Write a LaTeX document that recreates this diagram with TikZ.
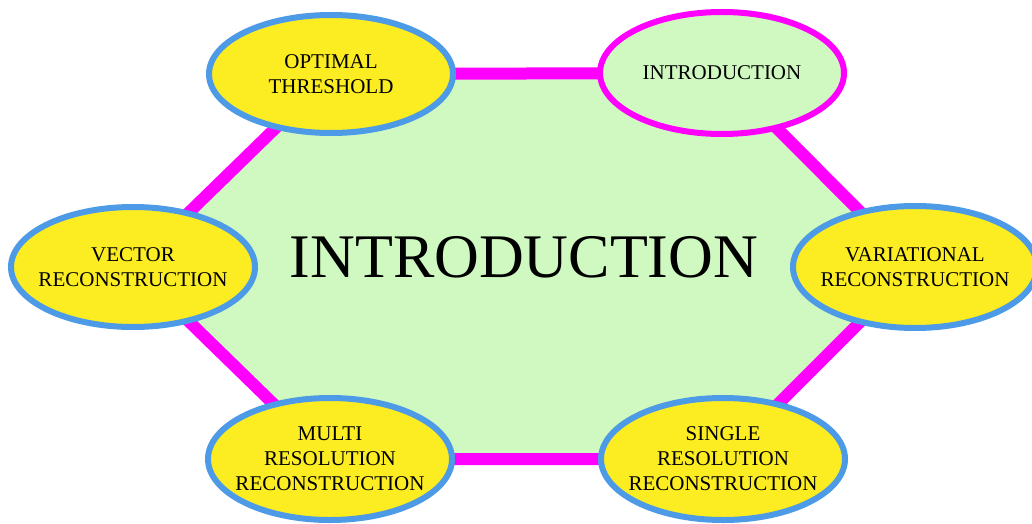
\documentclass[tikz,border=0pt]{standalone}
\usepackage{fontspec}
\setmainfont{Liberation Serif}
\usetikzlibrary{shapes.geometric,backgrounds}
\definecolor{hexgreen}{RGB}{207,249,192}
\definecolor{bubyellow}{RGB}{252,236,34}
\definecolor{bubblue}{RGB}{77,155,230}
\definecolor{edgemag}{RGB}{255,0,255}
\tikzset{
    bubble/.style={ellipse,draw=bubblue,fill=bubyellow,line width=6pt,minimum width=244pt,minimum height=118pt,inner sep=0pt},
    bubtext/.style={font=\fontsize{21}{25}\selectfont,align=center,text=black},
}
\begin{document}
\begin{tikzpicture}[x=1pt,y=-1pt]
    \useasboundingbox (0,0) rectangle (1032,524);
    \node[bubble] (opt) at (331,74) {};
    \node[bubble,draw=edgemag,fill=hexgreen,minimum height=122pt] (intro) at (722,73) {};
    \node[bubble,minimum height=122pt] (var) at (915,267) {};
    \node[bubble,minimum height=122pt] (single) at (723,459) {};
    \node[bubble,minimum height=122pt] (multi) at (330,459) {};
    \node[bubble,minimum height=120pt] (vec) at (133,267) {};
    \node[bubtext] (optText) at (opt) {OPTIMAL\\THRESHOLD};
    \node[bubtext] (introText) at (intro) {INTRODUCTION};
    \node[bubtext] (varText) at (var) {VARIATIONAL\\RECONSTRUCTION};
    \node[bubtext] (singleText) at (single) {SINGLE\\RESOLUTION\\RECONSTRUCTION};
    \node[bubtext] (multiText) at (multi) {MULTI\\RESOLUTION\\RECONSTRUCTION};
    \node[bubtext] (vecText) at (vec) {VECTOR\\RECONSTRUCTION};
    \begin{pgfonlayer}{background}
        \filldraw[fill=hexgreen,draw=edgemag,line width=12pt] (opt.center) -- (intro.center) -- (var.center) -- (single.center) -- (multi.center) -- (vec.center) -- cycle;
    \end{pgfonlayer}
    \node[font=\fontsize{62}{62}\selectfont] (title) at (524,257) {INTRODUCTION};
\end{tikzpicture}
\end{document}
